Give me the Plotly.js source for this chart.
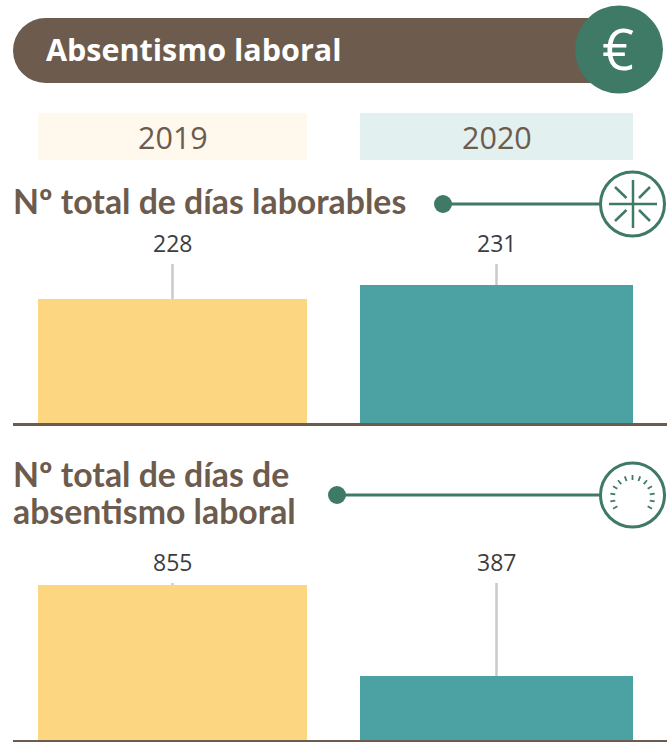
<!DOCTYPE html>
<html><head><meta charset="utf-8">
<script src="https://cdn.plot.ly/plotly-3.0.1.min.js"></script>
<style>html,body{margin:0;padding:0;background:#fff}#c{width:667px;height:742px}</style></head>
<body><div id="c"></div>
<script>
const years = ['2019', '2020'];
const diasLaborables = [228, 231];
const diasAbsentismo = [855, 387];
const chartTitle = 'Absentismo laboral';
const panel1Title = 'Nº total de días laborables';
const panel2Title = ['Nº total de días de', 'absentismo laboral'];

const W = 667, H = 742;
const BROWN = '#6d5b4d', GREEN = '#3f7a66', YEL = '#fcd681', TEAL = '#4ca1a3', GREY = '#cacaca';
const FONT = '"Open Sans", sans-serif', HEAD = 'Lato, sans-serif';
const px = x => x / W, py = y => 1 - y / H;

const xBase = {type: 'category', categoryorder: 'array', categoryarray: years, domain: [px(13), 1],
  range: [(13 - 172.5) / 324, (667 - 172.5) / 324], showline: true, linecolor: BROWN, linewidth: 2.5,
  showgrid: false, zeroline: false, showticklabels: false, ticks: '', fixedrange: true};
const yBase = {showgrid: false, zeroline: false, showticklabels: false, ticks: '', showline: false, fixedrange: true};

const range1 = [201.43, 235.5], range2 = [57.9, 865.3];
const widths = [269 / 324, 273 / 324];
const colors = [YEL, TEAL];

const traces = [];
[[diasLaborables, 'x', 'y', range1], [diasAbsentismo, 'x2', 'y2', range2]].forEach(([vals, xa, ya, r]) => {
  years.forEach((yr, i) => traces.push({type: 'scatter', mode: 'lines', x: [yr, yr], y: [vals[i], r[1]], xaxis: xa, yaxis: ya,
    line: {color: GREY, width: 2.5}, hoverinfo: 'skip', showlegend: false, cliponaxis: false}));
  traces.push({type: 'bar', x: years, y: vals, width: widths, xaxis: xa, yaxis: ya,
    marker: {color: colors, line: {width: 0}}, hoverinfo: 'skip', showlegend: false});
});

const P = c => ({xref: 'paper', yref: 'paper', ...c});
const rect = (x0, y0, x1, y1, fill) => P({type: 'rect', x0: px(x0), x1: px(x1), y0: py(y0), y1: py(y1), fillcolor: fill, line: {width: 0}});
const circ = (cx, cy, r, fill, lw) => P({type: 'circle', x0: px(cx - r), x1: px(cx + r), y0: py(cy - r), y1: py(cy + r),
  fillcolor: fill, line: lw ? {color: GREEN, width: lw} : {width: 0}});
const seg = (x0, y0, x1, y1, w) => P({type: 'line', x0: px(x0), x1: px(x1), y0: py(y0), y1: py(y1), line: {color: GREEN, width: w}});

const shapes = [
  circ(45.5, 50.5, 32.5, BROWN), rect(45.5, 18, 612, 83, BROWN), circ(619, 49.5, 44, GREEN),
  rect(38, 113, 307, 160, '#fff8ec'), rect(360, 113, 633, 160, '#e2f0ef'),
  seg(443, 204, 602, 204, 3), circ(443, 204, 9, GREEN),
  circ(632.5, 204, 32, '#ffffff', 3),
  seg(609, 204, 657, 204, 2.5), seg(633, 180, 633, 228, 2.5),
  seg(615, 187, 626.5, 198, 2.5), seg(650, 187, 639, 198, 2.5), seg(615, 221, 626.5, 210, 2.5), seg(650, 221, 639, 210, 2.5),
  seg(337, 495, 602, 495, 3), circ(337, 495, 9, GREEN),
  circ(632.5, 495, 32, '#ffffff', 3)
];
for (let k = -6; k <= 6; k++) {
  const a = k * 20 * Math.PI / 180, s = Math.sin(a), c = Math.cos(a);
  shapes.push(seg(632.5 + 17.5 * s, 497.5 - 17.5 * c, 632.5 + 22.5 * s, 497.5 - 22.5 * c, 1.8));
}

const txt = (text, x, y, size, color, anchor, weight, family) => ({text, xref: 'paper', yref: 'paper', x: px(x), y: py(y),
  xanchor: anchor, yanchor: 'middle', showarrow: false, font: {family: family || FONT, size, color, weight: weight || 400}});
const xc = [172.5, 496.5];
const annotations = [
  txt(chartTitle, 43.5, 49, 30.5, '#ffffff', 'left', 700),
  txt('€', 618, 48, 56, '#ffffff', 'center', 400),
  txt(panel1Title, 10.5, 201, 33.8, BROWN, 'left', 700, HEAD),
  txt(panel2Title[0], 10.5, 474, 33.8, BROWN, 'left', 700, HEAD),
  txt(panel2Title[1], 10.5, 511, 33.8, BROWN, 'left', 700, HEAD)
];
years.forEach((yr, i) => {
  annotations.push(txt(yr, xc[i], 137, 30.5, BROWN, 'center'));
  annotations.push({text: String(diasLaborables[i]), xref: 'x', yref: 'y', x: i, y: range1[1], yshift: 3, yanchor: 'bottom', xanchor: 'center',
    showarrow: false, font: {family: FONT, size: 23, color: '#3d3d3d'}});
  annotations.push({text: String(diasAbsentismo[i]), xref: 'x2', yref: 'y2', x: i, y: range2[1], yshift: 3, yanchor: 'bottom', xanchor: 'center',
    showarrow: false, font: {family: FONT, size: 23, color: '#3d3d3d'}});
});

const layout = {
  width: W, height: H, margin: {l: 0, r: 0, t: 0, b: 0}, paper_bgcolor: '#fff', plot_bgcolor: 'rgba(0,0,0,0)',
  showlegend: false, bargap: 0,
  xaxis: {...xBase, anchor: 'y'},
  yaxis: {...yBase, anchor: 'x', domain: [py(423), py(264)], range: range1},
  xaxis2: {...xBase, anchor: 'y2'},
  yaxis2: {...yBase, anchor: 'x2', domain: [py(740), py(583)], range: range2},
  shapes, annotations
};
Plotly.newPlot('c', traces, layout, {displayModeBar: false, staticPlot: true});
</script></body></html>
